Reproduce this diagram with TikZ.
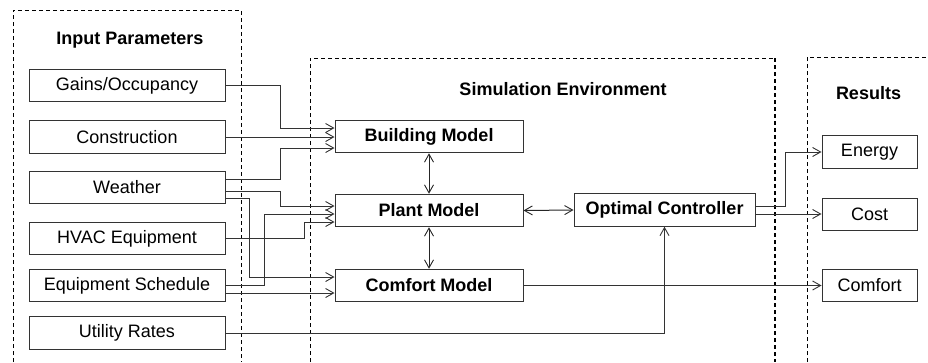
\documentclass[tikz,border=0pt]{standalone}
\usepackage{fontspec}
\setmainfont{Liberation Sans}
\usetikzlibrary{arrows.meta}
\begin{document}
\begin{tikzpicture}[x=1pt,y=-1pt,
  font=\fontsize{18}{21}\selectfont,
  box/.style={draw=black!80, line width=1pt, inner sep=0pt, minimum height=32.5pt, fill=white},
  inbox/.style={box, minimum width=196pt},
  modbox/.style={box, minimum width=188pt, font=\fontsize{18}{21}\selectfont\bfseries},
  resbox/.style={box, minimum width=95pt},
  conn/.style={draw=black!80, line width=1pt, -{Straight Barb[length=8pt,width=9pt,line width=0.9pt]}},
  biconn/.style={draw=black!85, line width=1pt, {Straight Barb[length=8pt,width=9pt,line width=0.9pt]}-{Straight Barb[length=8pt,width=9pt,line width=0.9pt]}},
  frame/.style={draw=black, line width=1pt, dash pattern=on 4pt off 3pt},
  title/.style={font=\fontsize{18}{21}\selectfont\bfseries}
]
\useasboundingbox (0,0) rectangle (928,362);

% dashed containers
\draw[frame] (13,362) -- (13,10) -- (241,10) -- (241,362);
\draw[frame] (310,362) -- (310,58) -- (775,58);
\draw[frame, line width=2pt] (775,58) -- (775,362);
\draw[frame] (807,362) -- (807,57) -- (935,57);

% titles
\node[title] (tin) at (130,40) {Input Parameters};
\node[title] (tsim) at (563,89) {Simulation Environment};
\node[title] (tres) at (868.5,93) {Results};

% input boxes
\node[inbox] (gains) at (127,85.5) {Gains/Occupancy};
\node[inbox] (construction) at (127,137) {Construction};
\node[inbox] (weather) at (127,187.5) {Weather};
\node[inbox] (hvac) at (127,238.5) {HVAC Equipment};
\node[inbox] (sched) at (127,285.5) {Equipment Schedule};
\node[inbox] (utility) at (127,333) {Utility Rates};

% model boxes
\node[modbox] (building) at (429,136.5) {Building Model};
\node[modbox] (plant) at (429,210.5) {Plant Model};
\node[modbox] (comfortm) at (429,285.5) {Comfort Model};
\node[box, minimum width=181pt, font=\fontsize{18}{21}\selectfont\bfseries] (optimal) at (664.5,210) {Optimal Controller};

% result boxes
\node[resbox] (energy) at (869.5,152) {Energy};
\node[resbox] (cost) at (869.5,214.5) {Cost};
\node[resbox] (comfortr) at (869.5,285.5) {Comfort};

% input connectors
\draw[conn] (gains.east) -| (280,128) -- (building.west |- 0,128);
\draw[conn] (construction.east) -- (building.west |- 0,137);
\draw[conn] (weather.east |- 0,179) -| (280,148) -- (building.west |- 0,148);
\draw[conn] (weather.east |- 0,191) -| (280,206) -- (plant.west |- 0,206);
\draw[conn] (weather.east |- 0,198) -| (249,277) -- (comfortm.west |- 0,277);
\draw[conn] (hvac.east) -| (304,222) -- (plant.west |- 0,222);
\draw[conn] (sched.east |- 0,285) -| (264,214) -- (plant.west |- 0,214);
\draw[conn] (sched.east |- 0,293) -- (comfortm.west |- 0,293);
\draw[conn] (utility.east) -| (optimal.south);

% internal connectors
\draw[biconn] (building.south) -- (plant.north);
\draw[biconn] (plant.south) -- (comfortm.north);
\draw[biconn] (plant.east) -- (optimal.west);

% outputs
\draw[conn] (comfortm.east) -- (comfortr.west);
\draw[conn] (optimal.east |- 0,206) -| (785,152) -- (energy.west);
\draw[conn] (optimal.east |- 0,214) -- (cost.west |- 0,214);
\end{tikzpicture}
\end{document}
